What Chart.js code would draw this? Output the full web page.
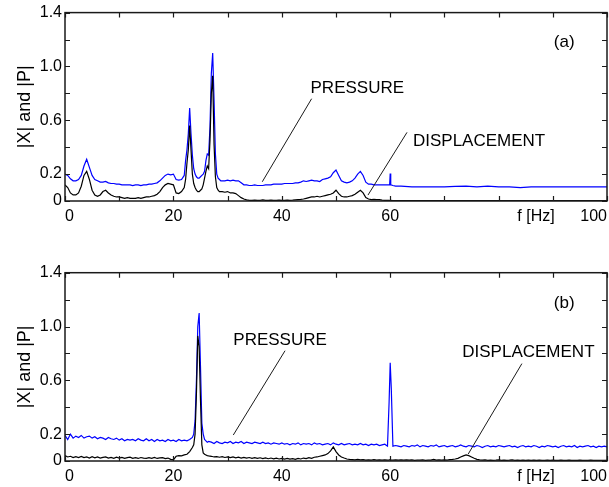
<!DOCTYPE html>
<html>
<head>
<meta charset="utf-8">
<script src="https://cdn.jsdelivr.net/npm/chart.js@4"></script>
<style>
body { margin:0; background:#fff; }
canvas { position:absolute; left:0; }
#chartA { top:0; }
#chartB { top:243px; }
</style>
</head>
<body>
<canvas id="chartA" width="609" height="243"></canvas>
<canvas id="chartB" width="609" height="244"></canvas>
<script>
// panel (a): frequency grid [Hz] and spectra magnitudes
var freqA = [0,0.5,1,1.5,2,2.5,3,3.5,4,4.5,5,5.5,6,6.5,7,7.5,8,8.5,9,9.5,10,10.5,11,11.5,12,12.5,13,13.5,14,14.5,15,15.5,16,16.5,17,17.5,18,18.5,19,19.5,20,20.5,21,21.5,22,
22.25,22.5,22.75,23,23.25,23.5,23.75,24,24.25,24.5,24.75,25,25.25,25.5,25.75,26,26.25,26.5,26.75,27,27.25,27.5,27.75,28,28.25,28.5,28.75,29,
29.5,30,30.5,31,31.5,32,32.5,33,33.5,34,34.5,35,35.5,36,36.5,37,37.5,38,38.5,39,39.5,40,40.5,41,41.5,42,42.5,43,43.5,44,
44.5,45,45.5,46,46.5,47,47.5,48,48.5,49,49.5,50,50.5,51,51.5,52,52.5,53,53.5,54,54.5,55,55.5,56,56.5,57,57.5,58,58.5,59,59.5,
59.9,60,60.1,60.5,61,61.5,62,
64,66,68,70,72,74,76,78,80,82,84,86,88,90,92,94,96,98,100]

var pressureA = [0.20,0.19,0.165,0.15,0.15,0.16,0.19,0.26,0.31,0.25,0.19,0.16,0.15,0.14,0.14,0.145,0.135,0.13,0.13,0.125,0.125,0.12,0.12,0.12,0.12,0.115,0.12,0.12,0.115,0.12,0.12,0.125,0.125,0.13,0.135,0.15,0.17,0.19,0.2,0.195,0.2,0.16,0.155,0.16,0.19,
0.3,0.38,0.5,0.69,0.5,0.34,0.24,0.2,0.18,0.17,0.17,0.18,0.19,0.2,0.22,0.3,0.35,0.34,0.55,0.95,1.10,0.75,0.35,0.2,0.17,0.16,0.15,0.15,
0.15,0.155,0.15,0.155,0.15,0.15,0.135,0.12,0.12,0.115,0.115,0.12,0.115,0.115,0.115,0.12,0.12,0.12,0.125,0.125,0.125,0.125,0.13,0.13,0.13,0.13,0.135,0.135,0.14,0.15,
0.145,0.15,0.155,0.15,0.15,0.145,0.16,0.165,0.17,0.18,0.21,0.23,0.19,0.15,0.14,0.135,0.14,0.15,0.17,0.2,0.22,0.19,0.14,0.125,0.125,0.12,0.12,0.12,0.12,0.12,0.12,
0.12,0.205,0.12,0.115,0.11,0.11,0.11,
0.105,0.105,0.105,0.105,0.108,0.11,0.105,0.11,0.105,0.105,0.1,0.105,0.105,0.105,0.105,0.105,0.105,0.105,0.105]

var displA = [0.12,0.10,0.06,0.045,0.045,0.06,0.11,0.19,0.22,0.16,0.08,0.045,0.035,0.045,0.07,0.08,0.06,0.045,0.035,0.03,0.03,0.025,0.02,0.025,0.02,0.02,0.02,0.025,0.02,0.025,0.03,0.03,0.035,0.04,0.05,0.07,0.1,0.12,0.13,0.125,0.12,0.06,0.055,0.07,0.1,
0.16,0.28,0.38,0.56,0.38,0.2,0.13,0.1,0.08,0.07,0.07,0.08,0.09,0.12,0.17,0.22,0.26,0.24,0.45,0.8,0.93,0.42,0.18,0.1,0.08,0.07,0.07,0.07,
0.065,0.07,0.06,0.06,0.055,0.04,0.025,0.015,0.008,0.005,0.004,0.006,0.004,0.005,0.008,0.005,0.004,0.006,0.005,0.004,0.006,0.005,0.004,0.007,0.005,0.006,0.008,0.01,0.012,0.015,
0.02,0.025,0.03,0.03,0.035,0.03,0.035,0.04,0.045,0.05,0.06,0.08,0.055,0.035,0.03,0.03,0.035,0.04,0.05,0.065,0.08,0.06,0.025,0.015,0.01,0.012,0.01,0.01,0.006,0.005,0.004,
0.004,0.005,0.004,0.003,0.003,0.003,0.003,
0.003,0.003,0.003,0.003,0.003,0.003,0.003,0.003,0.003,0.003,0.003,0.003,0.003,0.003,0.003,0.003,0.003,0.003,0.003]

// panel (b)
var freqB = [0,0.5,1,1.5,2,2.5,3,3.5,4,4.5,5,5.5,6,6.5,7,7.5,8,8.5,9,9.5,10,10.5,11,11.5,12,12.5,13,13.5,14,14.5,15,15.5,16,16.5,17,17.5,18,18.5,19,19.5,20,20.5,21,21.5,22,22.5,23,23.5,
23.75,24,24.25,24.5,24.75,25,25.25,25.5,25.75,26,26.25,26.5,
27,27.5,28,28.5,29,29.5,30,30.5,31,31.5,32,32.5,33,33.5,34,34.5,35,35.5,36,36.5,37,37.5,38,38.5,39,39.5,40,40.5,41,41.5,
42,42.5,43,43.5,44,44.5,45,45.5,46,46.5,47,47.5,48,48.5,49,49.5,50,50.5,51,51.5,52,52.5,53,53.5,54,54.5,55,55.5,56,56.5,57,57.5,58,58.5,59,59.5,
59.8,60,60.2,
60.5,61,61.5,62,62.5,63,63.5,64,64.5,65,65.5,66,66.5,67,67.5,68,68.5,69,69.5,70,70.5,71,71.5,72,72.5,73,73.5,74,74.5,75,75.5,76,76.5,77,77.5,78,78.5,79,79.5,80,
80.5,81,81.5,82,82.5,83,83.5,84,84.5,85,85.5,86,86.5,87,87.5,88,88.5,89,89.5,90,90.5,91,91.5,92,92.5,93,93.5,94,94.5,95,95.5,96,96.5,97,97.5,98,98.5,99,99.5,100]

var pressureB = [0.19,0.16,0.2,0.17,0.185,0.175,0.19,0.17,0.18,0.185,
0.17,0.18,0.165,0.175,0.17,0.16,0.175,0.165,0.16,0.17,
0.155,0.165,0.15,0.16,0.155,0.16,0.15,0.165,0.155,0.15,
0.165,0.15,0.16,0.145,0.16,0.15,0.155,0.145,0.16,0.15,
0.155,0.145,0.16,0.15,0.155,0.15,0.16,0.175,
0.2,0.3,0.6,1.0,1.1,0.7,0.28,0.2,0.16,0.15,0.14,0.145,
0.14,0.13,0.145,0.135,0.13,0.14,0.135,0.145,0.13,0.14,
0.135,0.145,0.13,0.14,0.135,0.13,0.14,0.135,0.13,0.14,
0.13,0.135,0.125,0.135,0.13,0.125,0.135,0.125,0.13,0.12,
0.13,0.125,0.135,0.12,0.13,0.125,0.13,0.12,0.135,0.125,
0.13,0.12,0.125,0.13,0.12,0.135,0.125,0.12,0.13,0.12,
0.125,0.13,0.12,0.125,0.12,0.13,0.12,0.125,0.115,0.125,
0.12,0.125,0.115,0.12,0.125,0.11,
0.44,0.73,0.54,
0.11,0.115,0.11,0.105,0.115,0.11,0.105,0.115,0.11,0.12,
0.105,0.115,0.11,0.105,0.115,0.11,0.12,0.105,0.11,0.115,
0.105,0.11,0.115,0.105,0.11,0.12,0.11,0.105,0.115,0.11,
0.105,0.115,0.11,0.1,0.11,0.115,0.105,0.11,0.105,0.115,
0.11,0.105,0.11,0.115,0.105,0.11,0.1,0.11,0.115,0.105,
0.11,0.105,0.115,0.11,0.1,0.11,0.105,0.115,0.11,0.105,
0.11,0.1,0.11,0.115,0.105,0.11,0.105,0.115,0.1,0.11,
0.105,0.11,0.115,0.105,0.11,0.1,0.11,0.105,0.11,0.105]

var displB = [0.04,0.03,0.035,0.025,0.032,0.026,0.034,0.025,0.03,0.022,
0.032,0.024,0.03,0.022,0.027,0.031,0.022,0.027,0.02,0.028,
0.022,0.027,0.02,0.025,0.029,0.02,0.025,0.019,0.026,0.022,
0.019,0.025,0.02,0.026,0.019,0.023,0.025,0.018,0.022,0.012,
0.008,0.035,0.04,0.038,0.045,0.05,0.07,0.1,
0.12,0.2,0.5,0.93,0.85,0.45,0.12,0.06,0.05,0.045,0.04,0.038,
0.035,0.03,0.033,0.028,0.032,0.026,0.03,0.025,0.03,0.024,
0.028,0.022,0.027,0.021,0.026,0.02,0.025,0.019,0.024,0.018,
0.023,0.017,0.022,0.016,0.021,0.015,0.02,0.014,0.019,0.014,
0.018,0.013,0.02,0.015,0.022,0.018,0.025,0.02,0.028,0.03,
0.035,0.04,0.045,0.055,0.075,0.105,0.07,0.045,0.03,0.022,
0.015,0.012,0.01,0.008,0.012,0.008,0.01,0.007,0.009,0.007,
0.01,0.006,0.008,0.006,0.009,0.006,
0.006,0.012,0.006,
0.007,0.009,0.006,0.008,0.006,0.009,0.006,0.008,0.005,0.007,
0.006,0.008,0.005,0.007,0.006,0.012,0.006,0.008,0.006,0.009,
0.007,0.01,0.012,0.015,0.02,0.03,0.038,0.045,0.04,0.03,
0.02,0.012,0.008,0.006,0.008,0.005,0.007,0.005,0.006,0.008,
0.005,0.007,0.005,0.006,0.008,0.005,0.006,0.004,0.007,0.005,
0.006,0.004,0.006,0.005,0.007,0.004,0.005,0.006,0.004,0.006,
0.005,0.004,0.006,0.005,0.004,0.006,0.005,0.004,0.005,0.006,
0.004,0.005,0.004,0.006,0.005,0.004,0.005,0.004,0.005,0.004]

// axis labels
var xLabels = [0, 20, 40, 60, 100]
var yLabels = ['0', '0.2', '0.6', '1.0', '1.4']

var FONT = '"Liberation Sans", Arial, sans-serif'
Chart.defaults.font.family = FONT
Chart.defaults.color = '#000'

function pts(fx, vals) {
  return fx.map(function (f, i) { return {x: f, y: vals[i]} })
}

// box, inward ticks and the labelled leader lines
var framePlugin = {
  id: 'frame',
  afterDatasetsDraw: function (chart, args, opts) {
    var ctx = chart.ctx, a = chart.chartArea, x = chart.scales.x, y = chart.scales.y
    ctx.save()
    ctx.strokeStyle = '#1a1a1a'
    ctx.lineWidth = 1.5
    ctx.strokeRect(a.left, a.top, a.right - a.left, a.bottom - a.top)
    ctx.lineWidth = 1.2
    ctx.beginPath()
    x.ticks.forEach(function (t) {
      var px = Math.round(x.getPixelForValue(t.value)) + 0.5
      ctx.moveTo(px, a.top); ctx.lineTo(px, a.top + 5)
      ctx.moveTo(px, a.bottom); ctx.lineTo(px, a.bottom - 5)
    })
    y.ticks.forEach(function (t) {
      var py = Math.round(y.getPixelForValue(t.value)) + 0.5
      ctx.moveTo(a.left, py); ctx.lineTo(a.left + 5, py)
      ctx.moveTo(a.right, py); ctx.lineTo(a.right - 5, py)
    })
    ctx.stroke()

    ctx.fillStyle = '#000'
    ctx.font = '16px ' + FONT
    ctx.textAlign = 'center'
    ctx.textBaseline = 'middle'
    ctx.fillText('f [Hz]', x.getPixelForValue(86.9), a.bottom + 15.6)

    ctx.font = '17px ' + FONT
    ctx.lineWidth = 1
    opts.notes.forEach(function (n) {
      ctx.beginPath()
      ctx.moveTo(x.getPixelForValue(n.from[0]), y.getPixelForValue(n.from[1]))
      ctx.lineTo(x.getPixelForValue(n.to[0]), y.getPixelForValue(n.to[1]))
      ctx.stroke()
      ctx.textAlign = 'left'
      ctx.textBaseline = 'alphabetic'
      ctx.fillText(n.text, x.getPixelForValue(n.at[0]), y.getPixelForValue(n.at[1]))
    })
    ctx.textAlign = 'center'
    ctx.textBaseline = 'middle'
    ctx.fillText(opts.tag.text, x.getPixelForValue(opts.tag.at[0]), y.getPixelForValue(opts.tag.at[1]))
    ctx.restore()
  }
}

function makePanel(id, fx, pressure, displ, padTop, xHeight, frame) {
  return new Chart(document.getElementById(id), {
    type: 'line',
    data: {
      datasets: [
        {label: 'DISPLACEMENT', data: pts(fx, displ), borderColor: '#000', borderWidth: 1.2},
        {label: 'PRESSURE', data: pts(fx, pressure), borderColor: '#0000ff', borderWidth: 1.2}
      ]
    },
    options: {
      responsive: false,
      animation: false,
      devicePixelRatio: 1,
      layout: {padding: {top: padTop, right: 2, left: 0, bottom: 0}},
      elements: {point: {radius: 0}, line: {tension: 0}},
      plugins: {legend: {display: false}, tooltip: {enabled: false}, frame: frame},
      scales: {
        x: {
          type: 'linear', min: 0, max: 100,
          grid: {display: false, drawTicks: false},
          border: {display: false},
          ticks: {
            stepSize: 10, autoSkip: false, maxRotation: 0, align: 'inner', padding: 6,
            font: {size: 16},
            callback: function (v) { return xLabels.indexOf(v) >= 0 ? String(v) : '' }
          },
          afterFit: function (s) { s.height = xHeight; s.paddingLeft = 0; s.paddingRight = 0 }
        },
        y: {
          min: 0, max: 1.4,
          grid: {display: false, drawTicks: false},
          border: {display: false},
          ticks: {
            stepSize: 0.2, padding: 3, font: {size: 16},
            callback: function (v) {
              var s = Math.round(v * 10) === 0 ? '0' : (Math.round(v * 10) / 10).toFixed(1)
              return yLabels.indexOf(s) >= 0 ? s : ''
            }
          },
          title: {display: true, text: '|X| and |P|', font: {size: 18}, padding: {top: 14, bottom: 0}},
          afterFit: function (s) { s.width = 65 }
        }
      }
    },
    plugins: [framePlugin]
  })
}

makePanel('chartA', freqA, pressureA, displA, 12, 42, {
  notes: [
    {text: 'PRESSURE', at: [45.3, 0.80], from: [45.5, 0.76], to: [36.4, 0.143]},
    {text: 'DISPLACEMENT', at: [64.2, 0.405], from: [63.1, 0.51], to: [55.9, 0.044]}
  ],
  tag: {text: '(a)', at: [92.1, 1.18]}
})

makePanel('chartB', freqB, pressureB, displB, 29.7, 26, {
  notes: [
    {text: 'PRESSURE', at: [31.05, 0.86], from: [40.6, 0.82], to: [31.05, 0.193]},
    {text: 'DISPLACEMENT', at: [73.3, 0.773], from: [84.3, 0.724], to: [74.4, 0.052]}
  ],
  tag: {text: '(b)', at: [92.1, 1.17]}
})
</script>
</body>
</html>
